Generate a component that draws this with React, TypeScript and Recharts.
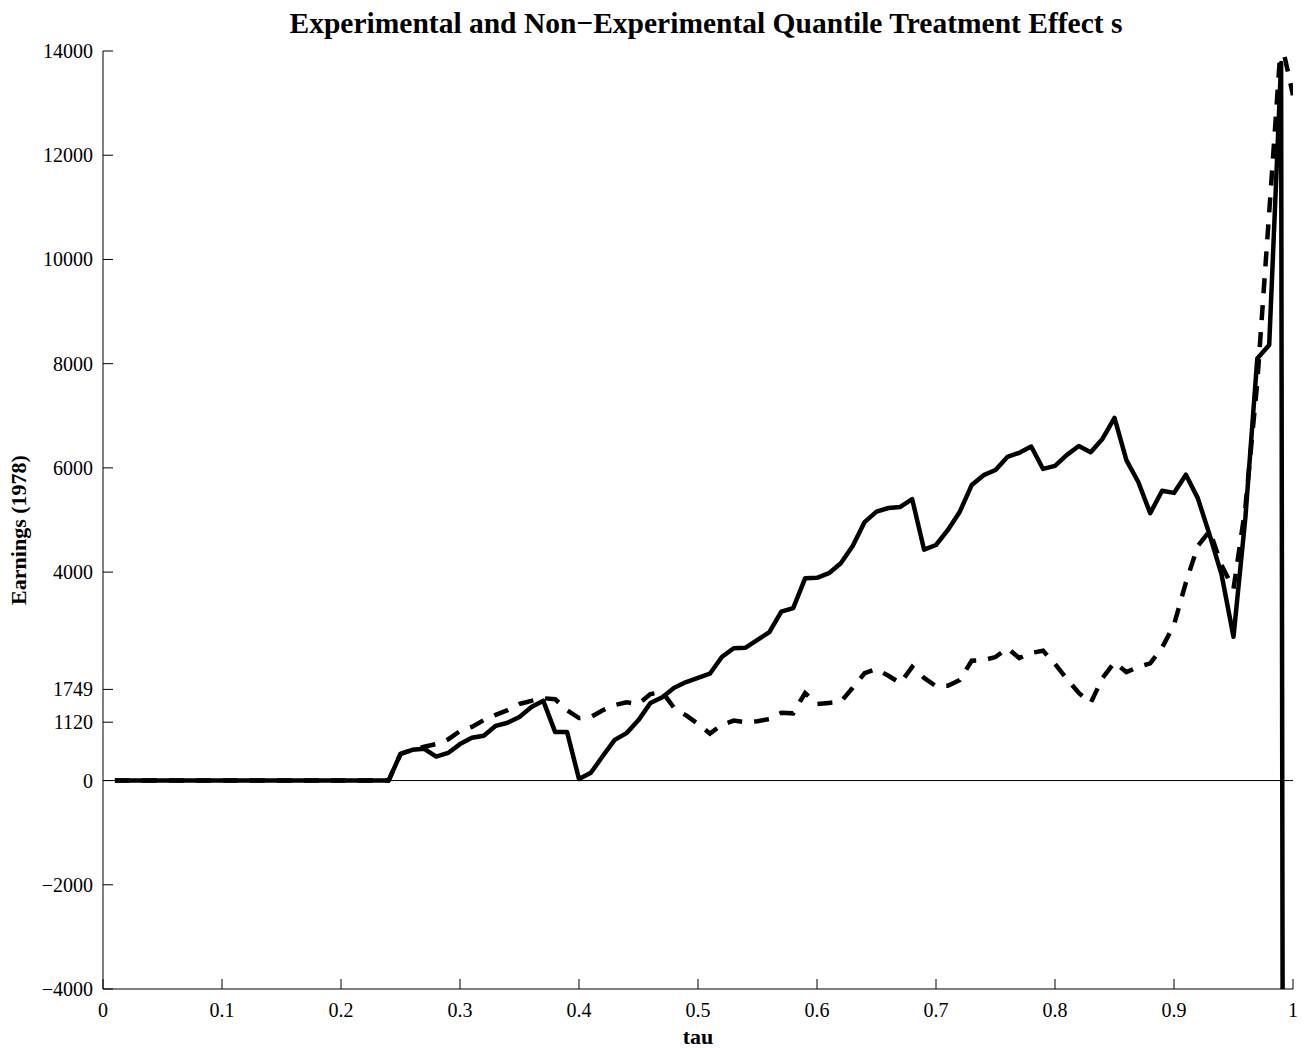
import { LineChart, Line, XAxis, YAxis, ReferenceLine } from 'recharts';

const tau = [
  0.01, 0.02, 0.03, 0.04, 0.05, 0.06, 0.07, 0.08, 0.09, 0.1,
  0.11, 0.12, 0.13, 0.14, 0.15, 0.16, 0.17, 0.18, 0.19, 0.2,
  0.21, 0.22, 0.23, 0.24, 0.25, 0.26, 0.27, 0.28, 0.29, 0.3,
  0.31, 0.32, 0.33, 0.34, 0.35, 0.36, 0.37, 0.38, 0.39, 0.4,
  0.41, 0.42, 0.43, 0.44, 0.45, 0.46, 0.47, 0.48, 0.49, 0.5,
  0.51, 0.52, 0.53, 0.54, 0.55, 0.56, 0.57, 0.58, 0.59, 0.6,
  0.61, 0.62, 0.63, 0.64, 0.65, 0.66, 0.67, 0.68, 0.69, 0.7,
  0.71, 0.72, 0.73, 0.74, 0.75, 0.76, 0.77, 0.78, 0.79, 0.8,
  0.81, 0.82, 0.83, 0.84, 0.85, 0.86, 0.87, 0.88, 0.89, 0.9,
  0.91, 0.92, 0.93, 0.94, 0.95, 0.96, 0.97, 0.98, 0.99, 1.0,
];

// solid line
const experimental = [
  0, 0, 0, 0, 0, 0, 0, 0, 0, 0,
  0, 0, 0, 0, 0, 0, 0, 0, 0, 0,
  0, 0, 0, 0, 510, 590, 610, 460, 530, 700,
  820, 860, 1050, 1110, 1220, 1410, 1530, 930, 930, 30,
  150, 470, 780, 910, 1160, 1490, 1600, 1780, 1890, 1970,
  2050, 2370, 2540, 2550, 2700, 2850, 3240, 3310, 3880, 3890,
  3980, 4170, 4500, 4960, 5160, 5230, 5250, 5400, 4430, 4520,
  4810, 5160, 5670, 5860, 5960, 6210, 6290, 6410, 5980, 6040,
  6250, 6420, 6300, 6560, 6960, 6150, 5730, 5130, 5560, 5520,
  5870, 5420, 4710, 3950, 2760, 5050, 8100, 8360, 13770, -128000,
];

// dashed line
const nonExperimental = [
  0, 0, 0, 0, 0, 0, 0, 0, 0, 0,
  0, 0, 0, 0, 0, 0, 0, 0, 0, 0,
  0, 0, 0, 0, 510, 590, 650, 700, 790, 950,
  1030, 1160, 1260, 1350, 1470, 1530, 1580, 1560, 1350, 1200,
  1220, 1350, 1450, 1500, 1470, 1660, 1700, 1390, 1250, 1090,
  900, 1070, 1150, 1120, 1140, 1180, 1300, 1290, 1680, 1470,
  1490, 1510, 1780, 2060, 2140, 2010, 1870, 2180, 1970, 1810,
  1820, 1930, 2300, 2310, 2370, 2540, 2350, 2450, 2490, 2240,
  1950, 1680, 1490, 1970, 2270, 2080, 2180, 2250, 2550, 2990,
  3800, 4500, 4790, 4130, 3680, 5250, 7650, 10900, 14200, 13150,
];

const xTicks = [0, 0.1, 0.2, 0.3, 0.4, 0.5, 0.6, 0.7, 0.8, 0.9, 1];
const yTicks = [-4000, -2000, 0, 1120, 1749, 4000, 6000, 8000, 10000, 12000, 14000];

const data = tau.map((t, i) => ({ tau: t, experimental: experimental[i], nonExperimental: nonExperimental[i] }));

const FONT = '"Liberation Serif", "Times New Roman", serif';
const TICK_LEN = 10;
const X_GAP = 24;
const Y_GAP = 20;
const fmtY = (v: number) => (v < 0 ? '\u2212' + Math.abs(v) : String(v));

// ticks point into the plot box, labels stay outside
const BottomTick = (p: any) => (
  <g>
    <line x1={p.x} x2={p.x} y1={p.y - X_GAP} y2={p.y - X_GAP - TICK_LEN} stroke="#000" />
    <text x={p.x} y={p.y + 4} textAnchor="middle" fontFamily={FONT} fontSize={20} fill="#000">
      {String(p.payload.value)}
    </text>
  </g>
);
const TopTick = (p: any) => <line x1={p.x} x2={p.x} y1={p.y} y2={p.y + TICK_LEN} stroke="#000" />;
const LeftTick = (p: any) => (
  <g>
    <line x1={p.x + Y_GAP} x2={p.x + Y_GAP + TICK_LEN} y1={p.y} y2={p.y} stroke="#000" />
    <text x={p.x + 10} y={p.y + 7} textAnchor="end" fontFamily={FONT} fontSize={20} fill="#000">
      {fmtY(p.payload.value)}
    </text>
  </g>
);
const RightTick = (p: any) => <line x1={p.x} x2={p.x - TICK_LEN} y1={p.y} y2={p.y} stroke="#000" />;

export default function App() {
  return (
    <div style={{ position: 'absolute', left: 0, top: 0, width: 1309, height: 1051, background: '#fff' }}>
      <LineChart width={1309} height={1051} data={data} margin={{ top: 51, right: 16, bottom: 22, left: 43 }}>
        <XAxis
          xAxisId="bottom"
          dataKey="tau"
          type="number"
          domain={[0, 1]}
          ticks={xTicks}
          interval={0}
          height={40}
          tickSize={0}
          tickMargin={X_GAP}
          tickLine={false}
          tick={BottomTick}
          stroke="#000"
          allowDataOverflow
        />
        <XAxis
          xAxisId="top"
          orientation="top"
          dataKey="tau"
          type="number"
          domain={[0, 1]}
          ticks={xTicks}
          interval={0}
          height={0}
          tickSize={0}
          tickMargin={0}
          tickLine={false}
          tick={TopTick}
          stroke="#000"
          allowDataOverflow
        />
        <YAxis
          yAxisId="left"
          type="number"
          domain={[-4000, 14000]}
          ticks={yTicks}
          interval={0}
          width={60}
          tickSize={0}
          tickMargin={Y_GAP}
          tickLine={false}
          tick={LeftTick}
          stroke="#000"
          allowDataOverflow
        />
        <YAxis
          yAxisId="right"
          orientation="right"
          type="number"
          domain={[-4000, 14000]}
          ticks={yTicks}
          interval={0}
          width={0}
          tickSize={0}
          tickMargin={0}
          tickLine={false}
          tick={RightTick}
          stroke="#000"
          allowDataOverflow
        />
        <ReferenceLine xAxisId="bottom" yAxisId="left" y={0} stroke="#000" strokeWidth={1} />
        <Line
          xAxisId="bottom"
          yAxisId="left"
          type="linear"
          dataKey="experimental"
          stroke="#000"
          strokeWidth={4.5}
          strokeLinejoin="round"
          dot={false}
          isAnimationActive={false}
        />
        <Line
          xAxisId="bottom"
          yAxisId="left"
          type="linear"
          dataKey="nonExperimental"
          stroke="#000"
          strokeWidth={4.5}
          strokeDasharray="15 12"
          dot={false}
          isAnimationActive={false}
        />
      </LineChart>
      <svg width={1309} height={1051} style={{ position: 'absolute', left: 0, top: 0, pointerEvents: 'none' }}>
        <text x={706} y={33} textAnchor="middle" fontFamily={FONT} fontWeight="bold" fontSize={29.5} fill="#000">
          Experimental and Non{'\u2212'}Experimental Quantile Treatment Effect s
        </text>
        <text x={698} y={1044} textAnchor="middle" fontFamily={FONT} fontWeight="bold" fontSize={22} fill="#000">
          tau
        </text>
        <text
          x={0}
          y={0}
          transform="translate(26 530) rotate(-90)"
          textAnchor="middle"
          fontFamily={FONT}
          fontWeight="bold"
          fontSize={22}
          fill="#000"
        >
          Earnings (1978)
        </text>
      </svg>
    </div>
  );
}
